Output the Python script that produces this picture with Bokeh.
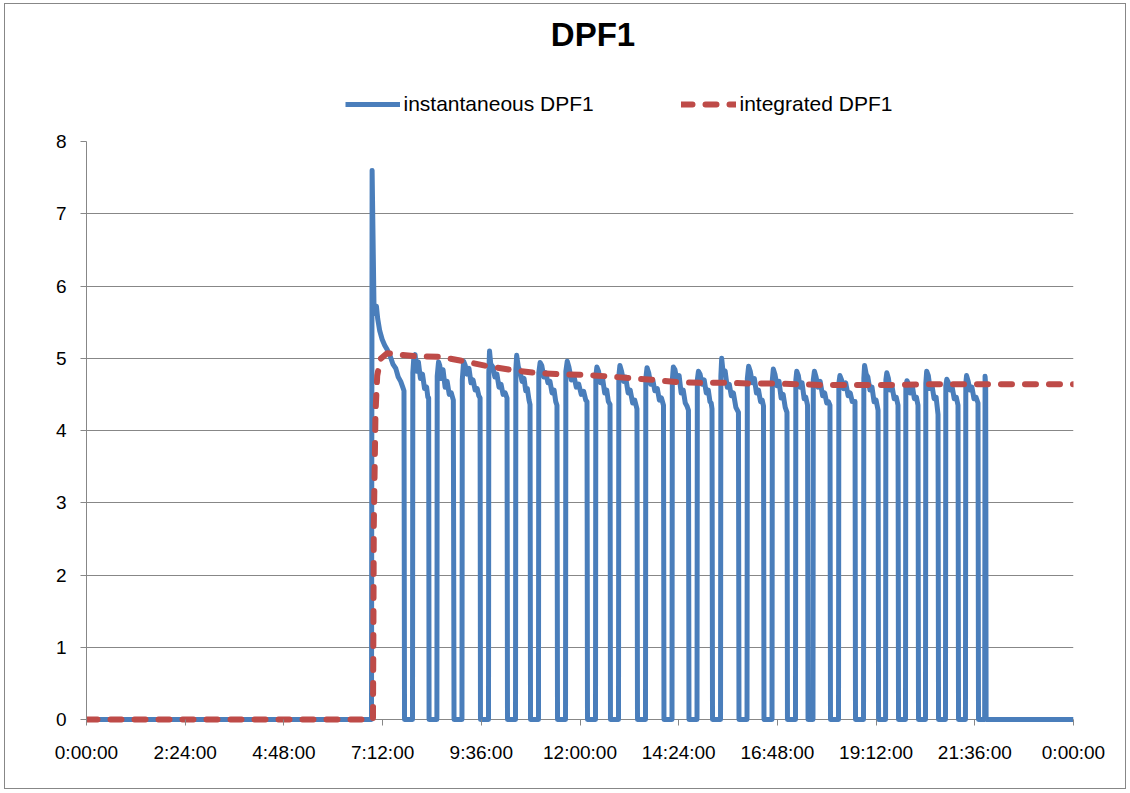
from bokeh.plotting import figure
from bokeh.layouts import column
from bokeh.models import FixedTicker, Legend, LegendItem, Label, ColumnDataSource
from bokeh.embed import file_html
from bokeh.resources import INLINE

# ---------------- data (hours of day, DPF1 value) ----------------
title_text = "DPF1"
series_names = ["instantaneous DPF1", "integrated DPF1"]

x_tick_hours = [0, 2.4, 4.8, 7.2, 9.6, 12.0, 14.4, 16.8, 19.2, 21.6, 24.0]
x_tick_labels = ["0:00:00", "2:24:00", "4:48:00", "7:12:00", "9:36:00", "12:00:00",
                 "14:24:00", "16:48:00", "19:12:00", "21:36:00", "0:00:00"]
y_ticks = [0, 1, 2, 3, 4, 5, 6, 7, 8]

inst_t = [
    0.0, 6.93, 6.945, 6.99, 7.02, 7.05, 7.08, 7.13, 7.19, 7.25, 7.31, 7.39, 7.45, 7.52, 7.58, 7.64, 7.69, 7.72, 7.733,
    7.927, 7.935, 7.96, 7.99, 8.03, 8.07, 8.12, 8.17, 8.22, 8.27, 8.30, 8.32, 8.33,
    8.52, 8.528, 8.56, 8.59, 8.63, 8.67, 8.72, 8.77, 8.82, 8.87, 8.92, 8.937,
    9.13, 9.138, 9.17, 9.21, 9.25, 9.30, 9.35, 9.40, 9.45, 9.50, 9.54, 9.57, 9.58,
    9.775, 9.783, 9.80, 9.83, 9.88, 9.93, 9.98, 10.03, 10.08, 10.13, 10.18, 10.225, 10.237,
    10.432, 10.44, 10.46, 10.50, 10.54, 10.59, 10.64, 10.68, 10.72, 10.76, 10.785, 10.797,
    10.990, 10.998, 11.03, 11.07, 11.12, 11.17, 11.22, 11.27, 11.32, 11.37, 11.41, 11.44, 11.453,
    11.648, 11.656, 11.69, 11.73, 11.79, 11.85, 11.91, 11.97, 12.03, 12.09, 12.14, 12.17, 12.182,
    12.377, 12.385, 12.41, 12.45, 12.50, 12.55, 12.60, 12.65, 12.69, 12.73, 12.741,
    12.936, 12.944, 12.97, 13.01, 13.06, 13.11, 13.17, 13.22, 13.28, 13.33, 13.385, 13.398,
    13.593, 13.60, 13.63, 13.67, 13.72, 13.77, 13.82, 13.88, 13.93, 13.98, 14.03, 14.042,
    14.237, 14.245, 14.27, 14.31, 14.36, 14.41, 14.46, 14.51, 14.56, 14.60, 14.637, 14.650,
    14.845, 14.853, 14.88, 14.92, 14.97, 15.02, 15.07, 15.12, 15.16, 15.19, 15.21, 15.222,
    15.417, 15.425, 15.445, 15.48, 15.53, 15.58, 15.63, 15.68, 15.73, 15.79, 15.853, 15.866,
    16.061, 16.069, 16.10, 16.14, 16.19, 16.24, 16.29, 16.34, 16.39, 16.43, 16.462, 16.474,
    16.669, 16.677, 16.70, 16.74, 16.79, 16.84, 16.89, 16.94, 16.99, 17.033, 17.045,
    17.240, 17.248, 17.27, 17.31, 17.35, 17.40, 17.45, 17.49, 17.533, 17.545,
    17.665, 17.673, 17.70, 17.74, 17.79, 17.84, 17.90, 17.95, 18.00, 18.04, 18.078, 18.091,
    18.286, 18.294, 18.32, 18.36, 18.41, 18.46, 18.52, 18.57, 18.62, 18.687, 18.699,
    18.894, 18.902, 18.92, 18.96, 19.00, 19.05, 19.10, 19.15, 19.20, 19.248, 19.26,
    19.43, 19.438, 19.46, 19.50, 19.54, 19.59, 19.64, 19.69, 19.733, 19.745,
    19.915, 19.923, 19.95, 19.99, 20.03, 20.08, 20.13, 20.18, 20.219, 20.231,
    20.401, 20.409, 20.43, 20.47, 20.51, 20.56, 20.61, 20.66, 20.706, 20.718,
    20.887, 20.895, 20.92, 20.96, 21.00, 21.05, 21.10, 21.15, 21.192, 21.204,
    21.373, 21.381, 21.40, 21.44, 21.48, 21.53, 21.58, 21.63, 21.678, 21.69,
    21.84, 21.85, 21.865, 21.875, 24.0,
]
inst_v = [
    0, 0, 7.6, 5.75, 5.62, 5.72, 5.55, 5.38, 5.26, 5.18, 5.12, 5.02, 4.92, 4.86, 4.74, 4.68, 4.60, 4.55, 0,
    0, 4.80, 5.02, 5.05, 4.82, 4.95, 4.72, 4.78, 4.58, 4.60, 4.46, 4.45, 0,
    0, 4.75, 4.95, 4.90, 4.72, 4.84, 4.60, 4.68, 4.50, 4.52, 4.42, 0,
    0, 4.70, 4.96, 4.90, 4.78, 4.86, 4.66, 4.70, 4.56, 4.58, 4.48, 4.45, 0,
    0, 4.80, 5.10, 4.92, 4.88, 4.74, 4.78, 4.60, 4.64, 4.50, 4.52, 4.45, 0,
    0, 4.85, 5.04, 4.88, 4.82, 4.68, 4.72, 4.55, 4.58, 4.42, 4.36, 0,
    0, 4.80, 4.94, 4.90, 4.74, 4.80, 4.66, 4.68, 4.52, 4.56, 4.40, 4.35, 0,
    0, 4.82, 4.96, 4.88, 4.70, 4.76, 4.60, 4.64, 4.50, 4.54, 4.42, 4.40, 0,
    0, 4.75, 4.88, 4.82, 4.66, 4.72, 4.52, 4.56, 4.40, 4.36, 0,
    0, 4.75, 4.90, 4.82, 4.68, 4.74, 4.52, 4.56, 4.38, 4.42, 4.30, 0,
    0, 4.72, 4.87, 4.80, 4.64, 4.70, 4.55, 4.58, 4.42, 4.45, 4.35, 0,
    0, 4.70, 4.88, 4.84, 4.68, 4.76, 4.52, 4.56, 4.38, 4.34, 4.28, 0,
    0, 4.70, 4.82, 4.78, 4.64, 4.70, 4.52, 4.56, 4.40, 4.38, 4.30, 0,
    0, 4.75, 5.00, 4.80, 4.82, 4.60, 4.64, 4.48, 4.52, 4.32, 4.25, 0,
    0, 4.72, 4.89, 4.82, 4.66, 4.72, 4.52, 4.56, 4.40, 4.42, 4.34, 0,
    0, 4.70, 4.85, 4.78, 4.62, 4.68, 4.45, 4.50, 4.32, 4.25, 0,
    0, 4.70, 4.82, 4.76, 4.60, 4.66, 4.44, 4.46, 4.35, 0,
    0, 4.70, 4.82, 4.74, 4.60, 4.68, 4.48, 4.52, 4.38, 4.40, 4.35, 0,
    0, 4.65, 4.76, 4.70, 4.58, 4.66, 4.48, 4.52, 4.40, 4.40, 0,
    0, 4.72, 4.90, 4.78, 4.74, 4.56, 4.60, 4.40, 4.42, 4.28, 0,
    0, 4.70, 4.80, 4.72, 4.56, 4.60, 4.44, 4.46, 4.35, 0,
    0, 4.60, 4.69, 4.64, 4.52, 4.62, 4.44, 4.46, 4.35, 0,
    0, 4.65, 4.82, 4.76, 4.58, 4.62, 4.44, 4.46, 4.22, 0,
    0, 4.62, 4.71, 4.66, 4.56, 4.60, 4.44, 4.46, 4.35, 0,
    0, 4.65, 4.76, 4.68, 4.56, 4.60, 4.44, 4.46, 4.38, 0,
    0, 4.75, 4.62, 0, 0,
]

integ_t = [0.0, 6.966, 6.976, 6.986, 7.027, 7.069, 7.149, 7.31, 7.95, 8.61, 9.17, 9.75,
           10.31, 10.87, 11.45, 12.09, 12.67, 13.30, 13.79, 14.37, 14.93, 15.59, 16.15,
           16.71, 17.36, 17.92, 18.50, 19.14, 19.72, 20.28, 20.84, 21.50, 24.0]
integ_v = [0.0, 0.0, 1.2, 2.68, 4.24, 4.76, 4.99, 5.07, 5.03, 5.02, 4.96, 4.89,
           4.84, 4.80, 4.78, 4.77, 4.75, 4.72, 4.70, 4.67, 4.66, 4.66, 4.65,
           4.65, 4.64, 4.63, 4.63, 4.63, 4.63, 4.64, 4.64, 4.64, 4.64]

# ---------------- styling ----------------
BLUE = "#4a7ebb"
RED = "#be4b48"
GRID = "#878787"
FONT = "Liberation Sans"
W = 1120
HEAD_H = 122
MAIN_H = 662

blue_style = dict(line_color=BLUE, line_width=5, line_join="round")
red_style = dict(line_color=RED, line_width=6, line_dash="11 13", line_cap="round", line_join="round")

# ---- header: title + legend (its frame is aligned with the chart frame) ----
head = figure(width=W, height=HEAD_H, output_backend="svg", toolbar_location=None,
              x_range=(86.5, 1073.5), y_range=(0, HEAD_H),
              x_axis_location=None, y_axis_location=None,
              min_border=0, min_border_left=0, min_border_right=0, min_border_top=0, min_border_bottom=0)
head.grid.visible = False
head.outline_line_color = None
head.background_fill_color = "white"
head.border_fill_color = "white"
d1 = head.line(x=[-500, -400], y=[-500, -500], **blue_style)
d2 = head.line(x=[-500, -400], y=[-500, -500], **red_style)
head.add_layout(Label(x=593, y=92.5, text=title_text, text_align="center", text_baseline="middle",
                      text_font=FONT, text_font_style="bold", text_font_size="33px", text_color="black"))
legend = Legend(items=[LegendItem(label=series_names[0], renderers=[d1]),
                       LegendItem(label=series_names[1], renderers=[d2])],
                location=(258.5, 10), orientation="horizontal",
                glyph_width=55, glyph_height=20, label_height=20, label_width=198,
                label_standoff=4, spacing=79, padding=0, margin=0,
                label_text_font=FONT, label_text_font_size="21px", label_text_color="black",
                border_line_alpha=0, background_fill_alpha=0)
head.add_layout(legend, "center")

# ---- main chart ----
p = figure(width=W, height=MAIN_H, output_backend="svg", toolbar_location=None,
           x_range=(0, 24), y_range=(-0.069, 8),
           min_border_left=81, min_border_right=52, min_border_top=15, min_border_bottom=64)
p.outline_line_color = None
p.background_fill_color = "white"
p.border_fill_color = "white"

src_i = ColumnDataSource(dict(t=inst_t, v=inst_v))
src_g = ColumnDataSource(dict(t=integ_t, v=integ_v))
p.line("t", "v", source=src_i, **blue_style)
p.line("t", "v", source=src_g, **red_style)

p.xaxis.ticker = FixedTicker(ticks=x_tick_hours)
p.xaxis.major_label_overrides = {h: lab for h, lab in zip(x_tick_hours, x_tick_labels)}
p.yaxis.ticker = FixedTicker(ticks=y_ticks)
p.yaxis.bounds = (0, 8)
for ax in (p.xaxis, p.yaxis):
    ax.axis_line_color = GRID
    ax.axis_line_width = 1
    ax.major_tick_line_color = GRID
    ax.major_tick_in = 0
    ax.major_tick_out = 6
    ax.minor_tick_line_color = None
    ax.major_label_text_font = FONT
    ax.major_label_text_font_size = "19px"
    ax.major_label_text_color = "black"
# x axis line is the zero grid line; ticks reach from the zero line downwards
p.xaxis.axis_line_color = None
p.xaxis.major_tick_in = 5
p.xaxis.major_tick_out = 1
p.xaxis.major_label_standoff = 16
p.yaxis.major_label_standoff = 14

p.xgrid.grid_line_color = None
p.ygrid.ticker = FixedTicker(ticks=y_ticks)
p.ygrid.grid_line_color = GRID
p.ygrid.grid_line_width = 1

layout = column(head, p, spacing=0, margin=(3, 0, 0, 4),
                styles={"border": "1.5px solid #878787"})

open("out.html", "w").write(file_html(layout, INLINE))
